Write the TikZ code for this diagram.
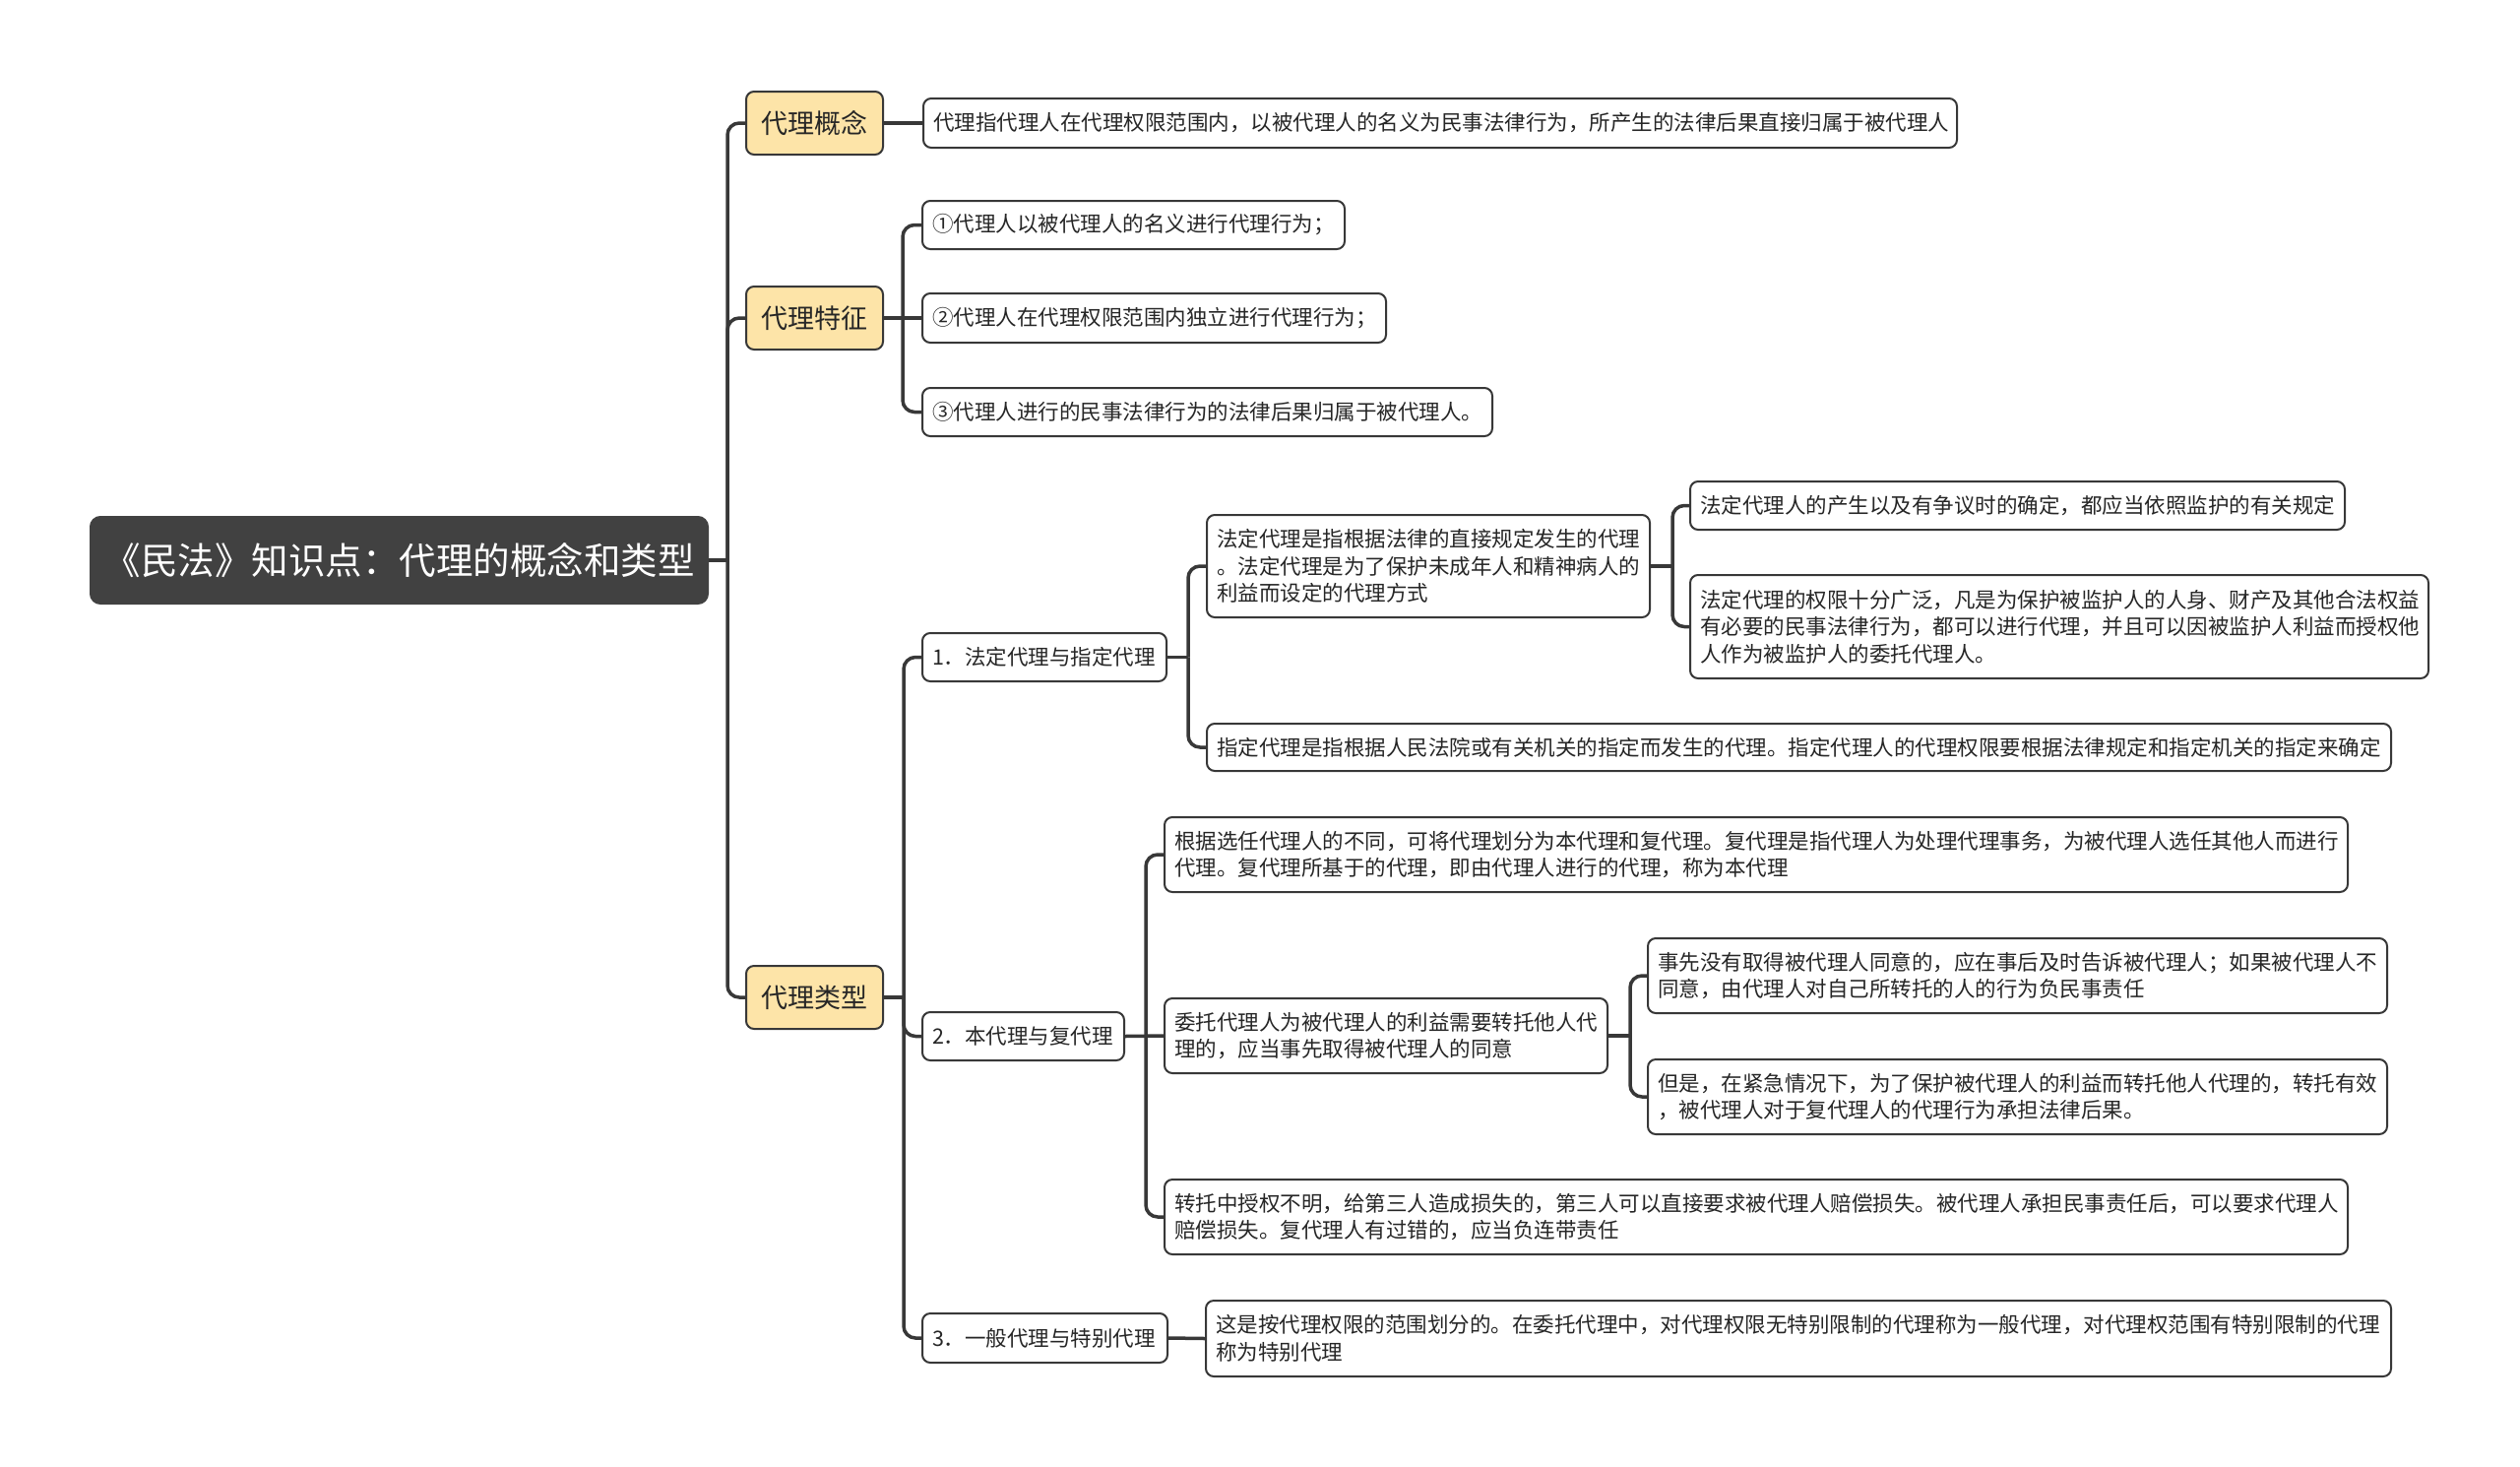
\documentclass[tikz,border=0pt]{standalone}
\usepackage{fontspec}
\setmainfont{Noto Sans CJK SC}
\newcommand\fsbox{\fontsize{21.5}{27.5}\selectfont}
\newcommand\fsmid{\fontsize{27}{32}\selectfont}
\newcommand\fsroot{\fontsize{37.5}{44}\selectfont}
\definecolor{lineC}{HTML}{383838}
\definecolor{yelC}{HTML}{FDE4A8}
\definecolor{rootC}{HTML}{414141}
\definecolor{txtC}{HTML}{262626}
\tikzset{
  box/.style={draw=lineC, line width=2pt, rounded corners=8pt, fill=white, font=\fsbox, text=txtC,
    inner xsep=10pt, inner ysep=0pt, anchor=north west, align=left},
  yel/.style={draw=lineC, line width=2pt, rounded corners=8pt, fill=yelC, font=\fsmid, text=txtC,
    inner sep=0pt, anchor=north west, align=center, minimum width=139pt, minimum height=64pt},
  rootbox/.style={draw=rootC, line width=2pt, rounded corners=10pt, fill=rootC, font=\fsroot, text=white,
    inner sep=0pt, anchor=north west, align=center, minimum width=627pt, minimum height=88pt},
  conn/.style={draw=lineC, line width=3.5pt},
  elbow/.style={conn, rounded corners=12pt},
}
\begin{document}
\begin{tikzpicture}[x=1pt,y=-1pt]
\useasboundingbox[fill=white] (0,0) rectangle (2560,1489);

% root and level 1
\node[rootbox] (root) at (91,524) {《民法》知识点：代理的概念和类型};
\node[yel] (c1) at (757,92) {代理概念};
\node[yel] (c2) at (757,290) {代理特征};
\node[yel] (c3) at (757,980) {代理类型};

% level 2
\node[box, text width=1030pt, minimum height=50pt] (d1) at (937,99) {代理指代理人在代理权限范围内，以被代理人的名义为民事法律行为，所产生的法律后果直接归属于被代理人};
\node[box, text width=409pt, minimum height=49pt] (t1) at (936,203) {①代理人以被代理人的名义进行代理行为；};
\node[box, text width=451pt, minimum height=50pt] (t2) at (936,297) {②代理人在代理权限范围内独立进行代理行为；};
\node[box, text width=559pt, minimum height=49pt] (t3) at (936,393) {③代理人进行的民事法律行为的法律后果归属于被代理人。};
\node[box, text width=228pt, minimum height=49pt] (k1) at (936,642) {1．法定代理与指定代理};
\node[box, text width=185pt, minimum height=49pt] (k2) at (936,1027) {2．本代理与复代理};
\node[box, text width=229pt, minimum height=50pt] (k3) at (936,1333) {3．一般代理与特别代理};

% level 3
\node[box, text width=430pt, minimum height=104pt] (fa) at (1225,522) {法定代理是指根据法律的直接规定发生的代理\\。法定代理是为了保护未成年人和精神病人的\\利益而设定的代理方式};
\node[box, text width=1183pt, minimum height=48pt] (fz) at (1225,734) {指定代理是指根据人民法院或有关机关的指定而发生的代理。指定代理人的代理权限要根据法律规定和指定机关的指定来确定};
\node[box, text width=1182pt, minimum height=76pt] (b1) at (1182,829) {根据选任代理人的不同，可将代理划分为本代理和复代理。复代理是指代理人为处理代理事务，为被代理人选任其他人而进行\\代理。复代理所基于的代理，即由代理人进行的代理，称为本代理};
\node[box, text width=430pt, minimum height=76pt] (b2) at (1182,1013) {委托代理人为被代理人的利益需要转托他人代\\理的，应当事先取得被代理人的同意};
\node[box, text width=1182pt, minimum height=76pt] (b3) at (1182,1197) {转托中授权不明，给第三人造成损失的，第三人可以直接要求被代理人赔偿损失。被代理人承担民事责任后，可以要求代理人\\赔偿损失。复代理人有过错的，应当负连带责任};
\node[box, text width=1184pt, minimum height=77pt] (g1) at (1224,1320) {这是按代理权限的范围划分的。在委托代理中，对代理权限无特别限制的代理称为一般代理，对代理权范围有特别限制的代理\\称为特别代理};

% level 4
\node[box, text width=645pt, minimum height=49pt] (f1) at (1716,488) {法定代理人的产生以及有争议时的确定，都应当依照监护的有关规定};
\node[box, text width=730pt, minimum height=105pt] (f2) at (1716,583) {法定代理的权限十分广泛，凡是为保护被监护人的人身、财产及其他合法权益\\有必要的民事法律行为，都可以进行代理，并且可以因被监护人利益而授权他\\人作为被监护人的委托代理人。};
\node[box, text width=731pt, minimum height=76pt] (w1) at (1673,952) {事先没有取得被代理人同意的，应在事后及时告诉被代理人；如果被代理人不\\同意，由代理人对自己所转托的人的行为负民事责任};
\node[box, text width=731pt, minimum height=76pt] (w2) at (1673,1075) {但是，在紧急情况下，为了保护被代理人的利益而转托他人代理的，转托有效\\，被代理人对于复代理人的代理行为承担法律后果。};

% junctions
\coordinate (jr) at ([xshift=19pt]root.east);
\coordinate (j2) at ([xshift=19pt]c2.east);
\coordinate (j3) at ([xshift=20pt]c3.east);
\coordinate (jk1) at ([xshift=21pt]k1.east);
\coordinate (jfa) at ([xshift=22pt]fa.east);
\coordinate (jk2) at ([xshift=21pt]k2.east);
\coordinate (jb2) at ([xshift=22pt]b2.east);

% connectors
\draw[conn] (root.east) -- (jr);
\draw[elbow] (jr) |- (c1.west);
\draw[elbow] (jr) |- (c2.west);
\draw[elbow] (jr) |- (c3.west);

\draw[conn] (c1.east) -- (d1.west);

\draw[conn] (c2.east) -- (t2.west);
\draw[elbow] (j2) |- (t1.west);
\draw[elbow] (j2) |- (t3.west);

\draw[conn] (c3.east) -- (j3);
\draw[elbow] (j3) |- (k1.west);
\draw[elbow] (j3) |- (k2.west);
\draw[elbow] (j3) |- (k3.west);

\draw[conn] (k1.east) -- (jk1);
\draw[elbow] (jk1) |- (fa.west);
\draw[elbow] (jk1) |- (fz.west);

\draw[conn] (fa.east) -- (jfa);
\draw[elbow] (jfa) |- (f1.west);
\draw[elbow] (jfa) |- (f2.west);

\draw[conn] (k2.east) -- (b2.west);
\draw[elbow] (jk2) |- (b1.west);
\draw[elbow] (jk2) |- (b3.west);

\draw[conn] (b2.east) -- (jb2);
\draw[elbow] (jb2) |- (w1.west);
\draw[elbow] (jb2) |- (w2.west);

\draw[conn] (k3.east) -- (g1.west);
\end{tikzpicture}
\end{document}
